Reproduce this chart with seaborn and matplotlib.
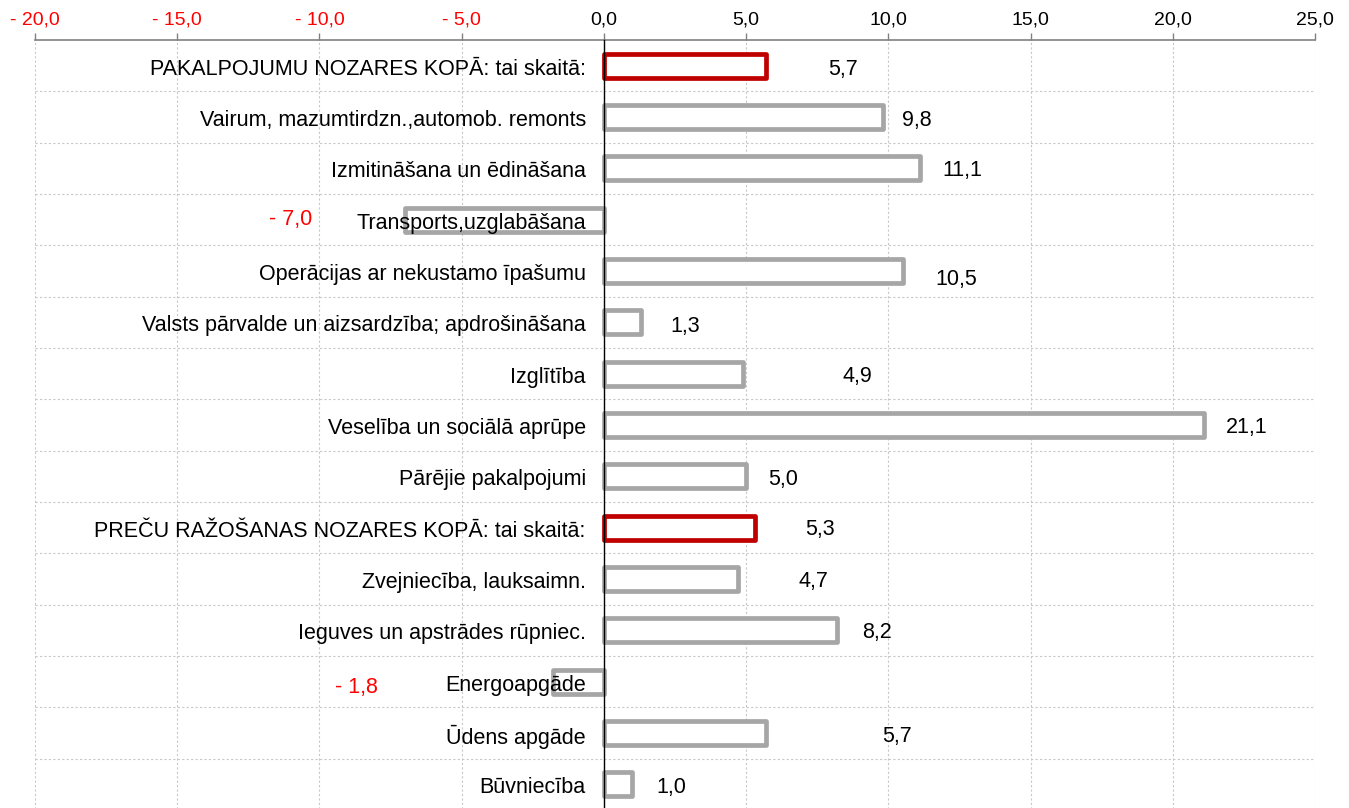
import matplotlib
matplotlib.use("Agg")
import matplotlib.pyplot as plt
import seaborn as sns

# data
categories = [
    "PAKALPOJUMU NOZARES KOPĀ: tai skaitā:",
    "Vairum, mazumtirdzn.,automob. remonts",
    "Izmitināšana un ēdināšana",
    "Transports,uzglabāšana",
    "Operācijas ar nekustamo īpašumu",
    "Valsts pārvalde un aizsardzība; apdrošināšana",
    "Izglītība",
    "Veselība un sociālā aprūpe",
    "Pārējie pakalpojumi",
    "PREČU RAŽOŠANAS NOZARES KOPĀ: tai skaitā:",
    "Zvejniecība, lauksaimn.",
    "Ieguves un apstrādes rūpniec.",
    "Energoapgāde",
    "Ūdens apgāde",
    "Būvniecība",
]
values = [5.7, 9.8, 11.1, -7.0, 10.5, 1.3, 4.9, 21.1, 5.0, 5.3, 4.7, 8.2, -1.8, 5.7, 1.0]
is_total = [True, False, False, False, False, False, False, False, False,
            True, False, False, False, False, False]
x_ticks = [-20, -15, -10, -5, 0, 5, 10, 15, 20, 25]

# manual label placement (as in the original sheet)
label_dx = [2.7, 1.2, 1.5, -4.0, 1.9, 1.55, 4.0, 1.5, 1.3, 2.3, 2.65, 1.4, -6.9, 4.6, 1.36]
label_dy = [0.08, 0.06, 0.04, 0.0, 0.17, 0.08, 0.06, 0.04, 0.06, 0.04, 0.04, 0.04, 0.12, 0.06, 0.06]


def fmt(v):
    s = f"{abs(v):.1f}".replace(".", ",")
    return "- " + s if v < 0 else s


sns.set_style("white")
plt.rcParams["font.family"] = ["Liberation Sans", "DejaVu Sans"]
plt.rcParams["text.color"] = "black"

fig = plt.figure(figsize=(13.49, 8.08), dpi=100)
ax = fig.add_axes([35 / 1349, -2 / 808, 1280 / 1349, 770 / 808])

sns.barplot(x=values, y=categories, orient="h", color="white",
            width=0.47, linewidth=3.4, edgecolor="#a6a6a6", ax=ax, zorder=3)
for p, tot in zip(ax.patches, is_total):
    p.set_edgecolor("#c00000" if tot else "#a6a6a6")
    p.set_facecolor("white")
    p.set_joinstyle("round")

ax.set_xlim(-20, 25)
ax.set_ylim(len(categories) - 0.5, -0.5)

# x axis on top
ax.xaxis.tick_top()
ax.set_xticks(x_ticks, [fmt(t) for t in x_ticks])
for lab, t in zip(ax.get_xticklabels(), x_ticks):
    lab.set_color("red" if t < 0 else "black")
ax.tick_params(axis="x", which="major", direction="out", length=5, width=1,
               color="#808080", labelsize=14, pad=3)

# category axis at zero
ax.spines["left"].set_position(("data", 0))
ax.spines["left"].set_color("black")
ax.spines["left"].set_linewidth(1)
ax.spines["left"].set_zorder(4)
ax.spines["top"].set_color("#808080")
ax.spines["top"].set_linewidth(1.2)
ax.spines["right"].set_visible(False)
ax.spines["bottom"].set_visible(False)

ax.set_yticks(range(len(categories)))
ax.set_yticks([i + 0.5 for i in range(len(categories) - 1)], minor=True)
ax.set_yticklabels([])
ax.tick_params(axis="y", which="major", length=0)
ax.tick_params(axis="y", which="minor", direction="out", length=5, width=1, color="black")

ax.grid(True, axis="x", which="major", color="#c8c8c8", linestyle=(0, (2, 2)), linewidth=0.8)
ax.grid(True, axis="y", which="minor", color="#c8c8c8", linestyle=(0, (2, 2)), linewidth=0.8)
ax.set_axisbelow(True)
ax.set_xlabel("")
ax.set_ylabel("")

# category names sit just left of the zero axis, over the bars
for i, name in enumerate(categories):
    ax.annotate(name, xy=(0, i), xytext=(-13, -2.5), textcoords="offset points",
                ha="right", va="center", fontsize=15.5, color="black", zorder=6)

for i, v in enumerate(values):
    ax.text(v + label_dx[i], i + label_dy[i], fmt(v), ha="center", va="center",
            fontsize=15.5, color="red" if v < 0 else "black", zorder=5)

fig.savefig("out.png", dpi=100)
